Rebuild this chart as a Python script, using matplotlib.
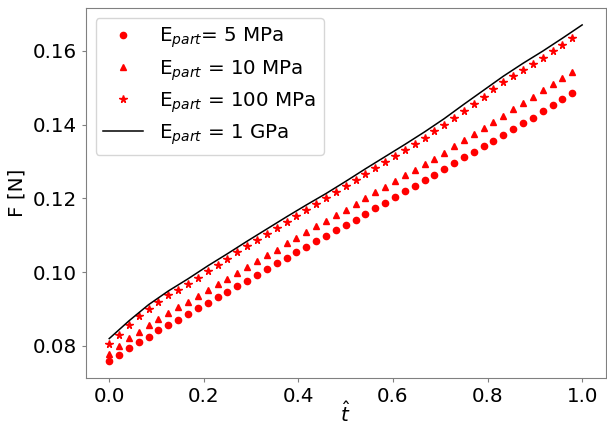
import matplotlib
matplotlib.use("Agg")
import matplotlib.pyplot as plt
import numpy as np

# normalised time for the sampled points (48 samples)
t_pts = np.arange(48) / 48.0

F_5mpa = [0.0758, 0.0776, 0.0794, 0.0811, 0.0825, 0.0842, 0.0857, 0.0871,
          0.0887, 0.0903, 0.0917, 0.0932, 0.0947, 0.0962, 0.0977, 0.0993,
          0.1008, 0.1024, 0.1039, 0.1054, 0.1068, 0.1084, 0.1097, 0.1113,
          0.1127, 0.1142, 0.1158, 0.1173, 0.1188, 0.1203, 0.1219, 0.1234,
          0.1249, 0.1263, 0.1279, 0.1295, 0.1311, 0.1325, 0.1341, 0.1356,
          0.1371, 0.1388, 0.1404, 0.1419, 0.1437, 0.1452, 0.1469, 0.1486]

F_10mpa = [0.0779, 0.0801, 0.0821, 0.0839, 0.0856, 0.0873, 0.0888, 0.0905,
           0.0919, 0.0935, 0.0951, 0.0967, 0.0982, 0.0999, 0.1015, 0.1031,
           0.1046, 0.1061, 0.1078, 0.1093, 0.1108, 0.1124, 0.1139, 0.1154,
           0.1169, 0.1186, 0.1201, 0.1216, 0.1231, 0.1246, 0.1262, 0.1278,
           0.1293, 0.1308, 0.1324, 0.1341, 0.1357, 0.1374, 0.1390, 0.1407,
           0.1424, 0.1441, 0.1458, 0.1476, 0.1493, 0.1510, 0.1526, 0.1542]

F_100mpa = [0.0806, 0.0829, 0.0857, 0.0880, 0.0900, 0.0920, 0.0937, 0.0953,
            0.0969, 0.0985, 0.1004, 0.1019, 0.1036, 0.1055, 0.1071, 0.1088,
            0.1104, 0.1120, 0.1137, 0.1152, 0.1169, 0.1184, 0.1200, 0.1216,
            0.1234, 0.1250, 0.1267, 0.1282, 0.1298, 0.1315, 0.1331, 0.1347,
            0.1364, 0.1382, 0.1399, 0.1419, 0.1438, 0.1457, 0.1476, 0.1495,
            0.1514, 0.1531, 0.1548, 0.1564, 0.1580, 0.1599, 0.1615, 0.1634]

# 1 GPa curve, sampled on a coarser grid up to t = 1
t_line = np.arange(25) / 24.0
F_1gpa = [0.0820, 0.0868, 0.0912, 0.0949, 0.0982, 0.1017, 0.1050, 0.1084,
          0.1117, 0.1150, 0.1182, 0.1213, 0.1246, 0.1280, 0.1313, 0.1346,
          0.1380, 0.1416, 0.1455, 0.1493, 0.1531, 0.1566, 0.1599, 0.1634,
          0.1670]

FS = 14.3
plt.rcParams['font.size'] = FS

fig = plt.figure(figsize=(6.07, 4.26), dpi=100)
ax = fig.add_axes([0.141, 0.112, 0.857, 0.869])

ax.plot(t_pts, F_5mpa, 'o', color='red', markersize=4.5, label=r'E$_{part}$= 5 MPa')
ax.plot(t_pts, F_10mpa, '^', color='red', markersize=4.5, label=r'E$_{part}$ = 10 MPa')
ax.plot(t_pts, F_100mpa, '*', color='red', markersize=5.5, label=r'E$_{part}$ = 100 MPa')
ax.plot(t_line, F_1gpa, '-', color='black', linewidth=1.1, label=r'E$_{part}$ = 1 GPa')

ax.set_xlabel(r'$\hat{t}$', fontsize=FS, labelpad=-4)
ax.set_ylabel('F [N]', fontsize=FS)
ax.set_xticks([0.0, 0.2, 0.4, 0.6, 0.8, 1.0])
ax.set_yticks([0.08, 0.10, 0.12, 0.14, 0.16])
ax.tick_params(labelsize=FS, length=3, color='0.5')
for sp in ax.spines.values():
    sp.set_color('0.5')
    sp.set_linewidth(0.8)

ax.legend(loc='upper left', fontsize=FS, handlelength=2.0, labelspacing=0.38)

fig.savefig('out.png', dpi=100)
